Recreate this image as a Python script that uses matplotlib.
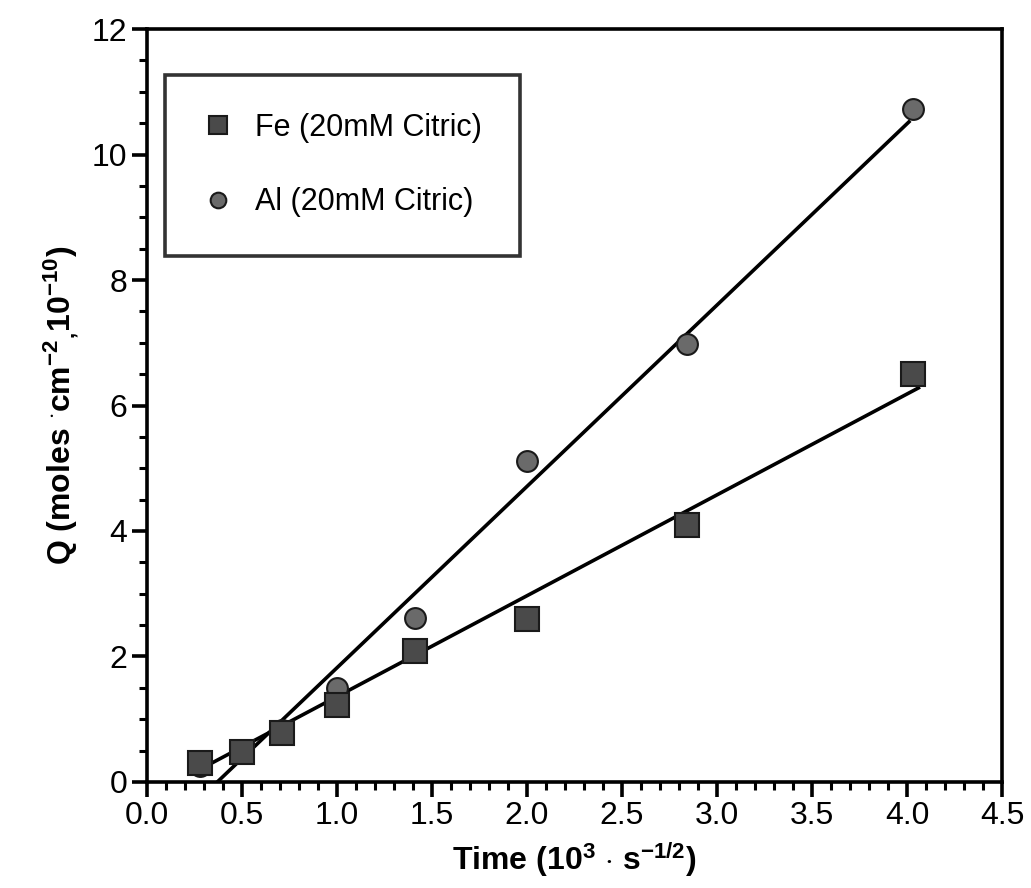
import numpy as np
import matplotlib
matplotlib.use("Agg")
import matplotlib.pyplot as plt
from matplotlib.ticker import MultipleLocator, FormatStrFormatter

plt.rcParams['font.family'] = ['Liberation Sans', 'DejaVu Sans']
plt.rcParams['mathtext.fontset'] = 'custom'
plt.rcParams['mathtext.rm'] = 'Liberation Sans:bold'
plt.rcParams['mathtext.default'] = 'rm'

# data
time_x = [0.28, 0.50, 0.71, 1.00, 1.41, 2.00, 2.84, 4.03]
fe_q = [0.31, 0.48, 0.78, 1.23, 2.08, 2.60, 4.10, 6.51]
al_q = [0.25, 0.50, 0.83, 1.50, 2.62, 5.12, 6.98, 10.72]

# fitted lines (end points)
fe_fit_x = [0.34, 4.06]
fe_fit_y = [0.30, 6.28]
al_fit_x = [0.37, 4.01]
al_fit_y = [0.00, 10.52]

fig = plt.figure(figsize=(10.31, 8.88), dpi=100)
ax = fig.add_axes([0.1426, 0.1194, 0.8293, 0.8479])

ax.plot(fe_fit_x, fe_fit_y, color='black', lw=2.6, zorder=2)
ax.plot(al_fit_x, al_fit_y, color='black', lw=2.6, zorder=2)

ax.plot(time_x, al_q, linestyle='none', marker='o', markersize=15,
        markerfacecolor='#6a6a6a', markeredgecolor='#1a1a1a', markeredgewidth=1.5,
        label='Al (20mM Citric)', zorder=3)
ax.plot(time_x, fe_q, linestyle='none', marker='s', markersize=17,
        markerfacecolor='#4a4a4a', markeredgecolor='#1a1a1a', markeredgewidth=1.5,
        label='Fe (20mM Citric)', zorder=4)

ax.set_xlim(0, 4.5)
ax.set_ylim(0, 12)
ax.xaxis.set_major_locator(MultipleLocator(0.5))
ax.xaxis.set_minor_locator(MultipleLocator(0.1))
ax.yaxis.set_major_locator(MultipleLocator(2))
ax.yaxis.set_minor_locator(MultipleLocator(0.5))
ax.xaxis.set_major_formatter(FormatStrFormatter('%.1f'))
ax.yaxis.set_major_formatter(FormatStrFormatter('%d'))

for s in ax.spines.values():
    s.set_linewidth(2.6)
ax.tick_params(which='major', direction='out', length=11, width=2.6,
               labelsize=23, pad=3)
ax.tick_params(which='minor', direction='out', length=6, width=2.2)

ax.set_xlabel(r'Time (10$^{3}$ $\cdot$ s$^{-1/2}$)', fontsize=23,
              fontweight='bold', labelpad=6)
ax.set_ylabel(r'Q (moles $^{\cdot}$cm$^{-2}$$_{,}$10$^{-10}$)', fontsize=23,
              fontweight='bold', labelpad=8)

handles, labels = ax.get_legend_handles_labels()
leg = ax.legend(handles[::-1], labels[::-1], loc='upper left',
                bbox_to_anchor=(0.021, 0.939), fontsize=22, frameon=True,
                fancybox=False, edgecolor='black', borderpad=1.25,
                labelspacing=1.45, handletextpad=0.7, handlelength=1.0,
                markerscale=0.75, borderaxespad=0)
leg.get_frame().set_linewidth(2.6)

fig.savefig('out.png', dpi=100)
